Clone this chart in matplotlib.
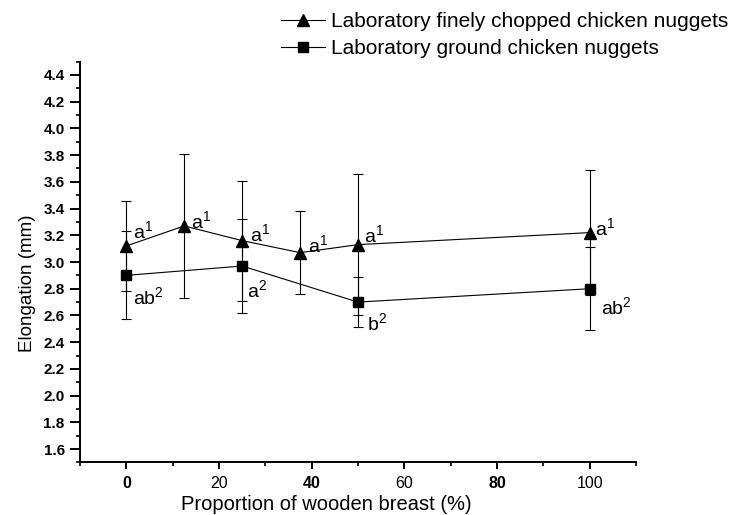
import matplotlib
matplotlib.use('Agg')
import matplotlib.pyplot as plt
from matplotlib.ticker import MultipleLocator, FormatStrFormatter

plt.rcParams['font.family'] = ['Liberation Sans', 'DejaVu Sans']
plt.rcParams['mathtext.fontset'] = 'custom'
plt.rcParams['mathtext.rm'] = 'Liberation Sans'
plt.rcParams['mathtext.it'] = 'Liberation Sans:italic'

# proportion of wooden breast (%) and elongation (mm), mean and SD
chopped_x = [0, 12.5, 25, 37.5, 50, 100]
chopped_mean = [3.12, 3.27, 3.16, 3.07, 3.13, 3.22]
chopped_sd = [0.34, 0.54, 0.45, 0.31, 0.53, 0.47]
chopped_letters = ['a', 'a', 'a', 'a', 'a', 'a']

ground_x = [0, 25, 50, 100]
ground_mean = [2.90, 2.97, 2.70, 2.80]
ground_sd = [0.33, 0.35, 0.19, 0.31]
ground_letters = ['ab', 'a', 'b', 'ab']

series_names = ['Laboratory finely chopped chicken nuggets',
                'Laboratory ground chicken nuggets']
x_ticks = [0, 20, 40, 60, 80, 100]

# where the significance letters sit next to each point (pixels right, up)
chopped_offsets = [(7, 8), (7, -2), (8, 0), (8, 1), (6, 3), (5, -2)]
ground_offsets = [(7, -29), (5, -31), (9, -28), (11, -25)]

fig = plt.figure(figsize=(7.42, 5.15), dpi=100)
ax = fig.add_axes([0.1078, 0.1021, 0.7493, 0.7783])

err_style = dict(fmt='none', ecolor='black', elinewidth=0.8, capsize=3.6, capthick=0.8)
ax.errorbar(chopped_x, chopped_mean, yerr=chopped_sd, **err_style)
ax.errorbar(ground_x, ground_mean, yerr=ground_sd, **err_style)
line1, = ax.plot(chopped_x, chopped_mean, '-^', color='black', lw=0.8, ms=9)
line2, = ax.plot(ground_x, ground_mean, '-s', color='black', lw=0.8, ms=7)

for x, y, s, (dx, dy) in zip(chopped_x, chopped_mean, chopped_letters, chopped_offsets):
    ax.annotate(s + r'$^{\mathregular{1}}$', (x, y), xytext=(dx, dy),
                textcoords='offset pixels', fontsize=14, ha='left', va='baseline')
for x, y, s, (dx, dy) in zip(ground_x, ground_mean, ground_letters, ground_offsets):
    ax.annotate(s + r'$^{\mathregular{2}}$', (x, y), xytext=(dx, dy),
                textcoords='offset pixels', fontsize=14, ha='left', va='baseline')

ax.set_xlim(-10, 110)
ax.set_ylim(1.5, 4.5)
ax.set_xticks(x_ticks, [str(v) for v in x_ticks])
ax.xaxis.set_minor_locator(MultipleLocator(10))
ax.yaxis.set_major_locator(MultipleLocator(0.2))
ax.yaxis.set_minor_locator(MultipleLocator(0.1))
ax.yaxis.set_major_formatter(FormatStrFormatter('%.1f'))

for side in ['top', 'right']:
    ax.spines[side].set_visible(False)
for side in ['left', 'bottom']:
    ax.spines[side].set_linewidth(1.4)

ax.tick_params(axis='x', which='major', direction='out', length=5, width=1.4, pad=5, labelsize=11.5)
ax.tick_params(axis='x', which='minor', direction='out', length=3, width=1.2)
ax.tick_params(axis='y', which='major', direction='out', length=7, width=1.4, pad=4, labelsize=11)
ax.tick_params(axis='y', which='minor', direction='out', length=3, width=1.2)
for lbl in ax.get_yticklabels():
    lbl.set_fontweight('bold')
for i, lbl in enumerate(ax.get_xticklabels()):
    if i % 2 == 0:
        lbl.set_fontweight('bold')

ax.set_xlabel('Proportion of wooden breast (%)', fontsize=14.5)
ax.xaxis.set_label_coords(0.4437, -0.119)
ax.xaxis.label.set_va('baseline')
ax.set_ylabel('Elongation (mm)', fontsize=13.5)
ax.yaxis.set_label_coords(-0.095, 0.4476)
ax.yaxis.label.set_va('center')

fig.legend([line1, line2], series_names, loc='upper left',
           bbox_to_anchor=(281 / 742, 0.977), frameon=False, fontsize=15,
           handlelength=2.1, handletextpad=0.3, labelspacing=0.4,
           borderpad=0, borderaxespad=0)

fig.savefig('out.png', dpi=100)
